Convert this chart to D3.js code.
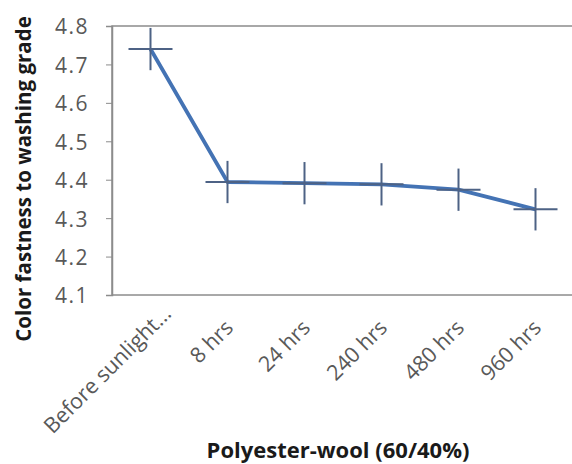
<!DOCTYPE html>
<html><head><meta charset="utf-8">
<script src="https://cdn.jsdelivr.net/npm/d3@7"></script>
<style>body{margin:0;background:#fff}svg{display:block}text{font-family:"Open Sans",sans-serif}</style>
</head><body><svg id="c" width="572" height="464"></svg>
<script>
const categories = ["Before sunlight...", "8 hrs", "24 hrs", "240 hrs", "480 hrs", "960 hrs"];
const values = [4.74, 4.394, 4.391, 4.388, 4.374, 4.323];
const errors = [0.055, 0.055, 0.055, 0.055, 0.055, 0.055];
const yTicks = [4.1, 4.2, 4.3, 4.4, 4.5, 4.6, 4.7, 4.8];

const svg = d3.select("#c");
const L = 112, R = 574, T = 26, B = 295;
const x = d3.scaleBand().domain(categories).range([L, R]);
const y = d3.scaleLinear().domain([4.1, 4.8]).range([B, T]);
const cx = c => x(c) + x.bandwidth() / 2;

svg.append("rect").attr("x", L).attr("y", T).attr("width", R - L).attr("height", B - T)
  .attr("fill", "none").attr("stroke", "#8c8c8c").attr("stroke-width", 1.5);

const ya = svg.append("g").attr("transform", `translate(${L},0)`)
  .call(d3.axisLeft(y).tickValues(yTicks).tickFormat(d3.format(".1f")).tickSize(6).tickPadding(17));
ya.select(".domain").attr("stroke", "#8c8c8c").attr("stroke-width", 1.5);
ya.selectAll(".tick line").attr("stroke", "#8c8c8c");
ya.selectAll(".tick text").attr("font-size", 21).attr("letter-spacing", "1.5px")
  .attr("fill", "#595959").attr("font-family", "Open Sans").attr("dy", "0.38em");

const xa = svg.append("g").attr("transform", `translate(0,${B})`)
  .call(d3.axisBottom(x).tickSize(0).tickPadding(0));
xa.select(".domain").remove();
xa.selectAll(".tick text").attr("font-size", 21.5).attr("fill", "#595959").attr("font-family", "Open Sans")
  .attr("text-anchor", "end").attr("dy", 0)
  .attr("transform", (d, i) => i === 0 ? "translate(22,20) rotate(-45)" : "translate(7,34) rotate(-45)");

const line = d3.line().x((d, i) => cx(categories[i])).y(d => y(d));
svg.append("path").datum(values).attr("d", line).attr("fill", "none")
  .attr("stroke", "#4473b4").attr("stroke-width", 3.8).attr("stroke-linejoin", "round");

const g = svg.append("g").attr("stroke", "#4d6285").attr("stroke-width", 2);
values.forEach((v, i) => {
  const px = cx(categories[i]);
  g.append("line").attr("x1", px).attr("x2", px).attr("y1", y(v + errors[i])).attr("y2", y(v - errors[i]));
  g.append("line").attr("x1", px - 22).attr("x2", px + 22).attr("y1", y(v)).attr("y2", y(v));
});

svg.append("text").attr("transform", "translate(31,179) rotate(-90)").attr("text-anchor", "middle")
  .attr("font-size", 20.5).attr("font-weight", "bold").attr("fill", "#1a1a1a")
  .text("Color fastness to washing grade");
svg.append("text").attr("x", 338).attr("y", 458).attr("text-anchor", "middle")
  .attr("font-size", 22).attr("font-weight", "bold").attr("fill", "#1a1a1a")
  .text("Polyester-wool (60/40%)");
</script></body></html>
